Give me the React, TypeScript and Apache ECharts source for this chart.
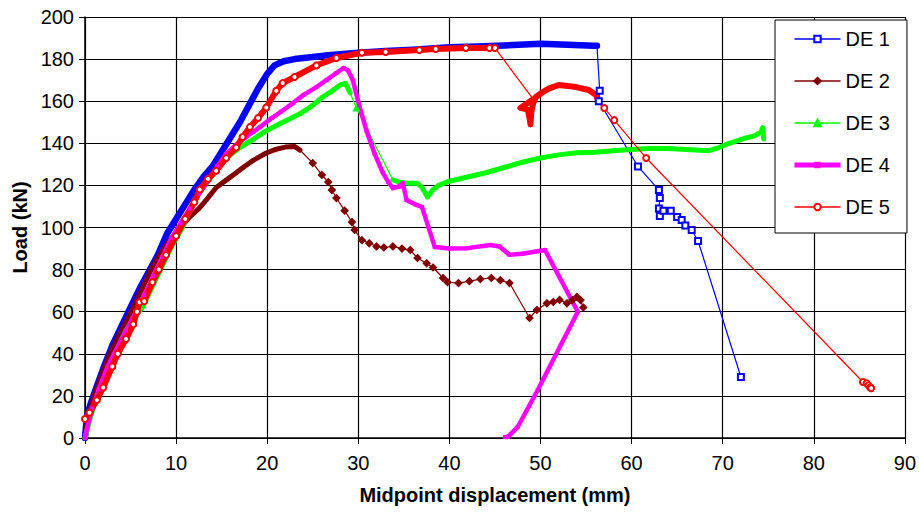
import React, { useEffect, useRef } from "react";
import * as echarts from "echarts";

// ---- Data (midpoint displacement mm, load kN) ----
const xTicks = [0, 10, 20, 30, 40, 50, 60, 70, 80, 90];
const yTicks = [0, 20, 40, 60, 80, 100, 120, 140, 160, 180, 200];
const seriesNames = ["DE 1", "DE 2", "DE 3", "DE 4", "DE 5"];

const de1Rise: number[][] = [
  [0, 0], [0.2, 10], [0.6, 16], [1, 21], [2, 33], [3, 44], [4, 53], [5, 62], [6, 71], [7, 79],
  [8, 87], [9, 97], [10, 104], [11, 111], [12, 118], [13, 124], [14, 129], [15, 136], [16, 143],
  [17, 150], [18, 158], [19, 166], [20, 173], [20.8, 177], [21.8, 179], [23, 180], [25, 181],
  [27, 182], [30, 183], [33, 183.8], [36, 184.5], [40, 185.6], [43, 186], [46, 186.5],
  [50, 187.3], [53, 186.8], [55.8, 186.4], [56.2, 186.4],
];
const de1Fall: number[][] = [
  [56.5, 165], [56.4, 160], [60.7, 129], [63, 117.8], [63.1, 114], [63, 109], [63.1, 105.5],
  [63.5, 108], [64.3, 108], [65, 105], [65.5, 103.6], [65.9, 101], [66.6, 98.8], [67.3, 93.6],
  [72, 29],
];

const de2Rise: number[][] = [
  [0, 0], [0.3, 9], [1, 20], [2, 32], [2.75, 40], [4, 51], [5.2, 61], [6.5, 73], [7.5, 82],
  [8.5, 89], [9.5, 95], [10.5, 100], [11.5, 105], [12.5, 109], [13.3, 113], [14.4, 119],
  [15.5, 122.5], [16.6, 126], [17.5, 129], [18.5, 132], [19.9, 135.4], [21, 137.2],
  [22, 138.2], [23, 138.5], [23.6, 136.8],
];
const de2Fall: number[][] = [
  [25, 130.6], [26, 125], [26.7, 121.6], [27.1, 117.8], [27.6, 114], [28.5, 108], [29.3, 102.6],
  [29.6, 98.8], [30.4, 94], [31.2, 92.5], [32, 91], [32.8, 90.5], [33.8, 91], [34.8, 90],
  [35.7, 89.3], [36.5, 85.5], [37.5, 83], [38.2, 81], [39.3, 76], [39.8, 74], [41, 73.6],
  [42.2, 74.5], [43.4, 75.5], [44.6, 76], [45.6, 75], [46.6, 73.6], [48.8, 57], [49.6, 60.8],
  [50.7, 64], [51.4, 64.6], [52.1, 65.6], [52.9, 64], [53.5, 65.5], [54, 67], [54.4, 65.5],
  [54.7, 62],
];

const de3Rise: number[][] = [
  [0, 0], [0.3, 5], [0.8, 13], [1.5, 21], [2.5, 32], [3.5, 42], [4.5, 51], [5.5, 58], [6.3, 62],
  [7.5, 73], [8.5, 82], [9.5, 91], [10.7, 100], [11.8, 111], [12.5, 116], [13.5, 122],
  [14.5, 128], [15.5, 133], [17, 138], [18.5, 142], [19.9, 146], [21.5, 149.5], [23.6, 154],
  [25, 158], [26.1, 162], [27, 164.5], [28, 167.7], [28.6, 168.5], [29.1, 164],
];
const de3Drop: number[][] = [[29.8, 156.8]];
const de3Tail: number[][] = [
  [33.8, 122.6], [34.5, 121.5], [35.5, 121], [36.5, 121], [37, 119], [37.6, 114.5], [38.2, 118],
  [38.8, 120], [40, 122], [42, 124], [44, 126], [46, 128.5], [48, 131], [50, 133], [52, 134.5],
  [54, 135.5], [56, 135.7], [58, 136.5], [60, 137], [62, 137.5], [64, 137.5], [66, 137],
  [68.5, 136.5], [69.6, 138], [70.7, 140], [72.5, 142.5], [73.5, 143.5], [74.2, 145.4],
  [74.4, 147.5], [74.5, 142],
];

const de4Data: number[][] = [
  [0, 0], [0.3, 6], [0.8, 14], [1.5, 23], [2.5, 34], [3.2, 40], [4.5, 51], [5.6, 60], [6.5, 68],
  [7.5, 77], [8.5, 86], [9.5, 95], [10.5, 102], [11.5, 109], [12.5, 116], [13.5, 122],
  [14.5, 129], [15.5, 135], [16.5, 139], [17.5, 142.5], [18.5, 145.5], [19.2, 147.7],
  [20.5, 152], [21.5, 155], [22.8, 159], [24, 163], [25.4, 166.7], [26.5, 170], [27.6, 173.4],
  [28.4, 175.8], [28.9, 174.5], [29.4, 170], [30.1, 158], [30.9, 146], [31.8, 135],
  [32.7, 126], [33.3, 121.6], [33.8, 118.7], [34.5, 119.5], [34.9, 121], [35.3, 113],
  [36.4, 110.7], [37, 109.7], [38.4, 90.7], [40, 90], [42, 90.2], [44.5, 91.7], [45.5, 91],
  [46.6, 87], [48, 87.5], [49.2, 88.4], [50.5, 89.3], [54.1, 60], [49.7, 22.8], [47.5, 5.2],
  [46.4, 0.5], [46.1, 0.5],
];

const de5Rise: number[][] = [
  [0, 9], [0.5, 12], [1.3, 18], [2, 24], [3, 34], [3.6, 40], [4.5, 47], [5.3, 54], [5.7, 60],
  [6, 64.5], [6.5, 65], [7.4, 74], [8.1, 80], [8.9, 87], [10, 96], [11, 104], [12, 112],
  [12.6, 118], [13.5, 123], [14.4, 127], [15.5, 133], [16.6, 138], [17.3, 143], [18.1, 147.7],
  [19, 152], [19.9, 157], [21, 165], [21.7, 168.6], [23, 171.5], [25.4, 177], [27.6, 180.5],
  [30.4, 183], [33, 183.4], [36.7, 184.3], [38.5, 184.8], [41.8, 185.3], [44.4, 185.3],
  [45, 185.3],
];
const de5Hump: number[][] = [
  [49.2, 161], [47.8, 156.8], [48.6, 156], [48.8, 152], [48.9, 149], [49, 155], [49.2, 159],
  [49.5, 162], [50.3, 164.5], [50.9, 166], [52, 167.7], [53, 167.2], [53.9, 166.7],
  [55.3, 165.3], [56.1, 163], [56.3, 160.6],
];
const de5Fall: number[][] = [
  [57, 156.8], [58.1, 151], [61.6, 133], [85.4, 26.6], [85.8, 26], [86, 25], [86.2, 24],
  [86.3, 23.6],
];

const FONT = "'Liberation Sans', Arial, sans-serif";

// points lying under a dense band: no separate marker
const hidden = (pts: number[][]) => pts.map((p) => ({ value: p, symbol: "none" }));

export default function App() {
  const ref = useRef<HTMLDivElement>(null);

  useEffect(() => {
    document.body.style.margin = "0";
    if (!ref.current) return;
    const chart = echarts.init(ref.current, null, { renderer: "svg" });

    const thin = (name: string, color: string, data: any[], symbol: string, size: number) => ({
      name,
      type: "line",
      data,
      symbol,
      symbolSize: size,
      showAllSymbol: true,
      lineStyle: { color, width: 1.2 },
      itemStyle: { color, borderColor: color, borderWidth: 1.2 },
      emphasis: { disabled: true },
    });
    const band = (name: string, color: string, data: number[][], width: number) => ({
      name,
      type: "line",
      data,
      symbol: "none",
      lineStyle: { color, width, join: "round", cap: "round" },
      itemStyle: { color },
      emphasis: { disabled: true },
    });

    const option: any = {
      animation: false,
      textStyle: { fontFamily: FONT, color: "#000" },
      grid: { left: 85, right: 14, top: 17, bottom: 74, containLabel: false },
      xAxis: {
        type: "value",
        min: xTicks[0],
        max: xTicks[xTicks.length - 1],
        interval: 10,
        name: "Midpoint displacement (mm)",
        nameLocation: "middle",
        nameGap: 47,
        nameTextStyle: { fontFamily: FONT, fontSize: 20, fontWeight: "bold", color: "#000" },
        axisLine: { show: true, onZero: false, lineStyle: { color: "#000", width: 1.5 } },
        axisTick: { show: true, length: 6, lineStyle: { color: "#000" } },
        axisLabel: { fontFamily: FONT, fontSize: 20, color: "#000", margin: 15 },
        splitLine: { show: true, lineStyle: { color: "#000", width: 1.2 } },
      },
      yAxis: {
        type: "value",
        min: yTicks[0],
        max: yTicks[yTicks.length - 1],
        interval: 20,
        name: "Load (kN)",
        nameLocation: "middle",
        nameGap: 55,
        nameTextStyle: { fontFamily: FONT, fontSize: 20, fontWeight: "bold", color: "#000" },
        axisLine: { show: true, onZero: false, lineStyle: { color: "#000", width: 1.5 } },
        axisTick: { show: true, length: 6, lineStyle: { color: "#000" } },
        axisLabel: { fontFamily: FONT, fontSize: 20, color: "#000", margin: 11 },
        splitLine: { show: true, lineStyle: { color: "#000", width: 1.2 } },
      },
      legend: {
        orient: "vertical",
        left: 775,
        top: 20,
        width: 130,
        backgroundColor: "#fff",
        borderColor: "#000",
        borderWidth: 1,
        borderRadius: 0,
        padding: [9, 17, 16, 17],
        itemWidth: 46,
        itemHeight: 8,
        itemGap: 22,
        textStyle: { fontFamily: FONT, fontSize: 20, color: "#000" },
        data: [
          { name: seriesNames[0], lineStyle: { width: 1.5 } },
          { name: seriesNames[1], lineStyle: { width: 1.5 } },
          { name: seriesNames[2], lineStyle: { width: 1.5 } },
          { name: seriesNames[3], lineStyle: { width: 5 } },
          { name: seriesNames[4], lineStyle: { width: 1.5 } },
        ],
      },
      series: [
        thin(seriesNames[0], "#0000FF", [...hidden(de1Rise), ...de1Fall], "emptyRect", 6),
        band(seriesNames[0], "#0000FF", de1Rise, 6.5),
        thin(seriesNames[1], "#800000", [...hidden(de2Rise), ...de2Fall], "diamond", 7),
        band(seriesNames[1], "#800000", de2Rise, 5),
        thin(seriesNames[2], "#00FF00", [...hidden(de3Rise), ...de3Drop, ...hidden(de3Tail)], "triangle", 6),
        band(seriesNames[2], "#00FF00", de3Rise, 5),
        band(seriesNames[2], "#00FF00", de3Tail, 5),
        {
          name: seriesNames[3],
          type: "line",
          data: de4Data,
          symbol: "rect",
          symbolSize: 4,
          showAllSymbol: true,
          lineStyle: { color: "#FF00FF", width: 4.5, join: "round" },
          itemStyle: { color: "#FF00FF" },
          emphasis: { disabled: true },
        },
        thin(seriesNames[4], "#FF0000", [...de5Rise, ...hidden(de5Hump), ...de5Fall], "emptyCircle", 6),
        band(seriesNames[4], "#FF0000", de5Rise, 6),
        band(seriesNames[4], "#FF0000", de5Hump, 6),
      ],
    };

    chart.setOption(option);
    return () => chart.dispose();
  }, []);

  return <div ref={ref} style={{ width: 919, height: 512 }} />;
}
